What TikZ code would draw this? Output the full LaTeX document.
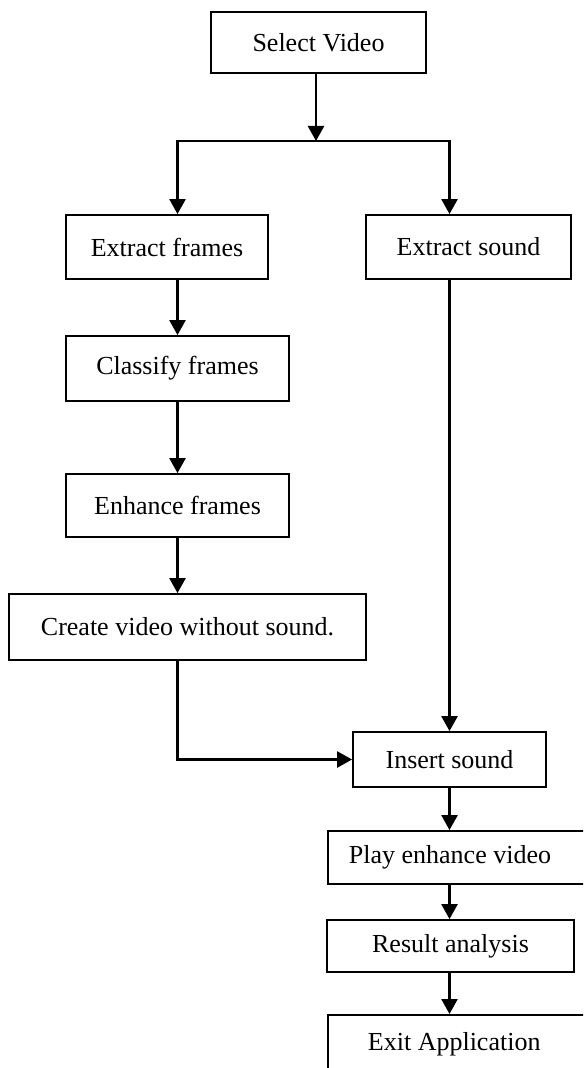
\documentclass[tikz,border=0pt]{standalone}
\usepackage{fontspec}
\setmainfont{Liberation Serif}
\usetikzlibrary{arrows.meta, positioning, calc}

\begin{document}
\begin{tikzpicture}[x=0.5pt, y=-0.5pt,
  box/.style={rectangle, draw, line width=0.9pt, inner sep=0pt,
    font=\fontsize{13}{15}\selectfont, align=center},
  openbox/.style={box, anchor=west},
  flow/.style={line width=1.2pt, -{Triangle[width=8pt, length=7.5pt]}}]
  \useasboundingbox (0,0) rectangle (583,1068);
  \clip (0,0) rectangle (583,1068);

  % top of the chart
  \node[box, minimum width=107.5pt, minimum height=30.5pt] (sel) at (318.5,42.5) {Select Video};
  \coordinate (jn) at (316,141);

  % frame branch
  \node[box, minimum width=101pt,   minimum height=32pt]   (ef) at (167,247)     {Extract frames};
  \node[box, minimum width=111.5pt, minimum height=32.5pt] (cf) at (177.5,368.5) {Classify frames};
  \node[box, minimum width=111.5pt, minimum height=31.5pt] (en) at (177.5,505.5) {Enhance frames};
  \node[box, minimum width=178.5pt, minimum height=33pt]   (cv) at (187.5,627)   {Create video without sound.};

  % sound branch and output
  \node[box, minimum width=102.5pt, minimum height=32pt]   (es) at (468.5,247)   {Extract sound};
  \node[box, minimum width=96.5pt,  minimum height=27.5pt] (is) at (449.5,759.5) {Insert sound};
  \node[openbox, inner xsep=10.5pt, minimum height=26.5pt] (pv) at (327,857.5)   {Play enhance video\hspace*{40pt}};
  \node[box, minimum width=123.5pt, minimum height=26pt]   (ra) at (450.5,946)   {Result analysis};
  \node[openbox, anchor=north west, inner xsep=20pt, minimum height=29pt] (ex) at (327,1014) {Exit Application\hspace*{40pt}};

  \draw[flow] (sel.south -| jn) -- (jn);
  \draw[flow] (jn) -| (cf.north |- ef.north);
  \draw[flow] (jn) -| (is.north |- es.north);
  \draw[flow] (cf.north |- ef.south) -- (cf.north);
  \draw[flow] (cf.south) -- (en.north);
  \draw[flow] (en.south) -- (en.south |- cv.north);
  \draw[flow] (en.south |- cv.south) |- (is.west);
  \draw[flow] (is.north |- es.south) -- (is.north);
  \draw[flow] (is.south) -- (is.south |- pv.north);
  \draw[flow] (is.south |- pv.south) -- (is.south |- ra.north);
  \draw[flow] (is.south |- ra.south) -- (is.south |- ex.north);
\end{tikzpicture}
\end{document}
